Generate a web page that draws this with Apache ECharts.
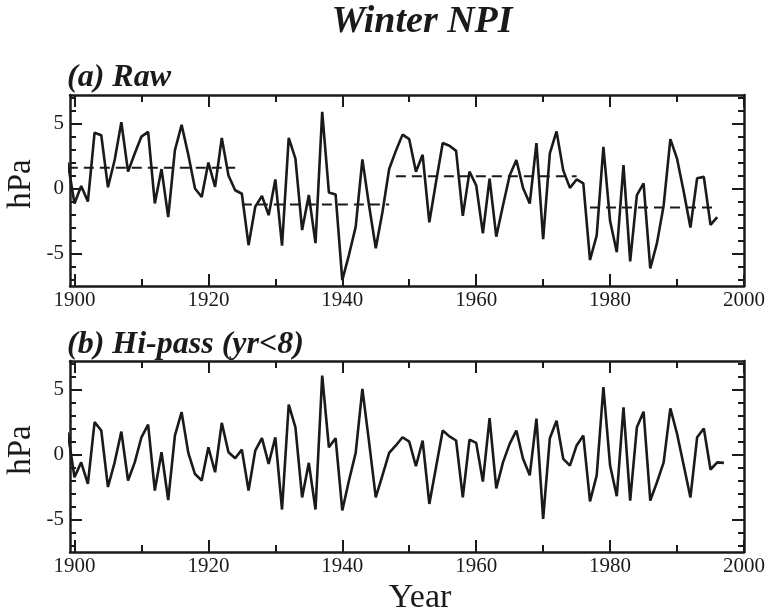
<!DOCTYPE html>
<html>
<head>
<meta charset="utf-8">
<title>Winter NPI</title>
<script src="https://cdn.jsdelivr.net/npm/echarts@6/dist/echarts.min.js"></script>
<style>
  html, body { margin: 0; padding: 0; background: #fff; }
  #chart { width: 768px; height: 613px; }
</style>
</head>
<body>
<div id="chart"></div>
<script>
// winter NPI anomalies (hPa)
const rawStartYear = 1899;
const rawValues = [
  2.0, -1.15, 0.2, -1.0, 4.3, 4.1, 0.1, 2.2, 5.1, 1.3,
  2.7, 4.0, 4.36, -1.15, 1.5, -2.2, 2.95, 4.9, 2.6, 0.0,
  -0.65, 2.0, 0.13, 3.9, 1.0, -0.13, -0.4, -4.36, -1.4, -0.56,
  -2.05, 0.7, -4.4, 3.9, 2.3, -3.2, -0.5, -4.2, 5.9, -0.3,
  -0.45, -7.05, -5.1, -2.95, 2.25, -1.3, -4.6, -1.8, 1.5, 2.9,
  4.15, 3.8, 1.3, 2.6, -2.6, 0.5, 3.5, 3.3, 2.9, -2.1,
  1.3, 0.25, -3.45, 0.77, -3.7, -1.3, 1.0, 2.2, 0.05, -1.15,
  3.5, -3.9, 2.7, 4.4, 1.4, 0.05, 0.7, 0.4, -5.5, -3.6,
  3.2, -2.5, -4.9, 1.8, -5.6, -0.5, 0.4, -6.15, -4.2, -1.3,
  3.8, 2.3, -0.25, -3.0, 0.8, 0.9, -2.8, -2.2
];

const hipassStartYear = 1899;
const hipassValues = [
  1.7, -1.75, -0.6, -2.25, 2.5, 1.85, -2.5, -0.6, 1.77, -2.0,
  -0.6, 1.33, 2.3, -2.77, 0.18, -3.5, 1.46, 3.26, 0.13, -1.5,
  -2.0, 0.56, -1.36, 2.44, 0.18, -0.28, 0.38, -2.77, 0.3, 1.26,
  -0.72, 1.33, -4.23, 3.85, 2.1, -3.3, -0.64, -4.23, 6.08, 0.56,
  1.26, -4.3, -2.0, 0.13, 5.05, 0.95, -3.3, -1.6, 0.13, 0.7,
  1.33, 1.0, -0.9, 1.08, -3.8, -0.97, 1.85, 1.4, 1.08, -3.3,
  1.15, 0.9, -2.08, 2.8, -2.6, -0.6, 0.82, 1.85, -0.33, -1.6,
  2.77, -4.95, 1.26, 2.6, -0.33, -0.85, 0.7, 1.46, -3.6, -1.6,
  5.2, -0.85, -3.2, 3.64, -3.54, 2.1, 3.3, -3.54, -2.13, -0.6,
  3.56, 1.6, -0.85, -3.3, 1.33, 2.0, -1.15, -0.6, -0.64
];

// regime means drawn as dashed lines in panel (a)
const regimeStart = [1899, 1925, 1948, 1977];
const regimeEnd   = [1924, 1947, 1975, 1996];
const regimeMean  = [1.6, -1.23, 0.95, -1.46];

// tick labels
const xMajorTicks = [1900, 1920, 1940, 1960, 1980, 2000];
const xMinorTicks = [1910, 1930, 1950, 1970, 1990];
const yMajorTicks = [-5, 0, 5];
const yMinorTicks = [-7, -6, -4, -3, -2, -1, 1, 2, 3, 4, 6, 7];

const FONT = '"Liberation Serif", "DejaVu Serif", serif';
const INK = '#1a1a1a';
const X_MIN = 1899.33, X_MAX = 2000;
const Y_MIN = -7.5, Y_MAX = 7.2;

const toPairs = (start, vals) => vals.map((v, i) => [start + i, v]);

const chart = echarts.init(document.getElementById('chart'));

const tickStyle = { color: INK, width: 2 };
const frameLine = { show: true, onZero: false, lineStyle: { color: INK, width: 2.5 } };
const noLine = { show: false, onZero: false };
const plainLabel = (v) => String(v);

function makeXAxes(gridIndex) {
  const base = { type: 'value', gridIndex, min: X_MIN, max: X_MAX, splitLine: { show: false } };
  const axes = [];
  ['bottom', 'top'].forEach((pos) => {
    axes.push({
      ...base, position: pos,
      axisLine: frameLine,
      axisTick: { show: true, inside: true, length: 12, customValues: xMajorTicks, lineStyle: tickStyle },
      axisLabel: pos === 'bottom'
        ? { show: true, customValues: xMajorTicks, formatter: plainLabel, margin: 4, fontFamily: FONT, fontSize: 21, color: INK }
        : { show: false }
    });
    axes.push({
      ...base, position: pos,
      axisLine: noLine,
      axisTick: { show: true, inside: true, length: 7, customValues: xMinorTicks, lineStyle: tickStyle },
      axisLabel: { show: false }
    });
  });
  return axes;
}

function makeYAxes(gridIndex) {
  const base = { type: 'value', gridIndex, min: Y_MIN, max: Y_MAX, splitLine: { show: false } };
  const axes = [];
  ['left', 'right'].forEach((pos) => {
    axes.push({
      ...base, position: pos,
      axisLine: frameLine,
      axisTick: { show: true, inside: true, length: 12, customValues: yMajorTicks, lineStyle: tickStyle },
      axisLabel: pos === 'left'
        ? { show: true, customValues: yMajorTicks, formatter: plainLabel, margin: 6, fontFamily: FONT, fontSize: 21, color: INK }
        : { show: false }
    });
    axes.push({
      ...base, position: pos,
      axisLine: noLine,
      axisTick: { show: true, inside: true, length: 6, customValues: yMinorTicks, lineStyle: tickStyle },
      axisLabel: { show: false }
    });
  });
  return axes;
}

const series = [
  {
    type: 'line', xAxisIndex: 0, yAxisIndex: 0,
    data: toPairs(rawStartYear, rawValues),
    showSymbol: false,
    lineStyle: { color: INK, width: 2.6 }
  },
  {
    type: 'line', xAxisIndex: 4, yAxisIndex: 4,
    data: toPairs(hipassStartYear, hipassValues),
    showSymbol: false,
    lineStyle: { color: INK, width: 2.6 }
  }
];
regimeMean.forEach((m, i) => {
  series.push({
    type: 'line', xAxisIndex: 0, yAxisIndex: 0,
    data: [[regimeStart[i], m], [regimeEnd[i], m]],
    showSymbol: false,
    lineStyle: { color: INK, width: 2, type: [10, 6] }
  });
});

const titleFont = 'italic bold 38px ' + FONT;
const panelFont = 'italic bold 32px ' + FONT;
const unitFont = '33px ' + FONT;

chart.setOption({
  animation: false,
  backgroundColor: '#fff',
  grid: [
    { left: 70, top: 95, width: 674, height: 191 },
    { left: 70, top: 361, width: 674, height: 191 }
  ],
  xAxis: [...makeXAxes(0), ...makeXAxes(1)],
  yAxis: [...makeYAxes(0), ...makeYAxes(1)],
  series,
  graphic: [
    { type: 'text', style: { text: 'Winter NPI', x: 422, y: 22, font: titleFont, fill: INK, textAlign: 'center', textVerticalAlign: 'middle' } },
    { type: 'text', style: { text: '(a) Raw', x: 67, y: 78, font: panelFont, fill: INK, textAlign: 'left', textVerticalAlign: 'middle' } },
    { type: 'text', style: { text: '(b) Hi-pass (yr<8)', x: 67, y: 345, font: panelFont, fill: INK, textAlign: 'left', textVerticalAlign: 'middle' } },
    { type: 'text', rotation: Math.PI / 2, x: 21, y: 184, style: { text: 'hPa', x: 0, y: 0, font: unitFont, fill: INK, textAlign: 'center', textVerticalAlign: 'middle' } },
    { type: 'text', rotation: Math.PI / 2, x: 21, y: 450, style: { text: 'hPa', x: 0, y: 0, font: unitFont, fill: INK, textAlign: 'center', textVerticalAlign: 'middle' } },
    { type: 'text', style: { text: 'Year', x: 420, y: 598, font: '34px ' + FONT, fill: INK, textAlign: 'center', textVerticalAlign: 'middle' } }
  ]
});
</script>
</body>
</html>
